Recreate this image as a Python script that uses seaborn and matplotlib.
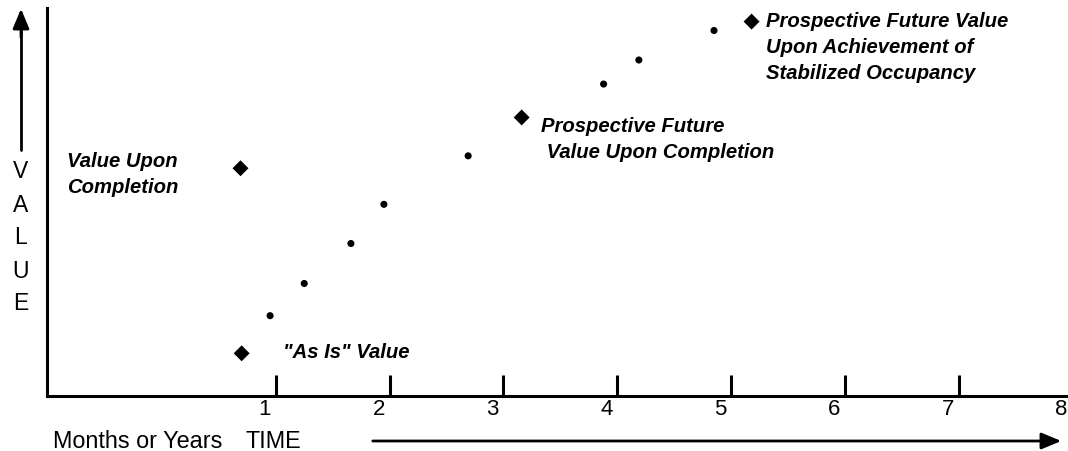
import numpy as np
import pandas as pd
import seaborn as sns
import matplotlib.pyplot as plt
from matplotlib.transforms import offset_copy

# diamonds = named values, dots = path in between
diamond_x = [0.70, 0.69, 3.16, 5.18]
diamond_y = [11.0, 58.7, 71.8, 96.5]
diamond_labels = ['"As Is" Value',
                  'Value Upon\nCompletion',
                  'Prospective Future\n Value Upon Completion',
                  'Prospective Future Value\nUpon Achievement of\nStabilized Occupancy']
dot_x = [0.95, 1.25, 1.66, 1.95, 2.69, 3.88, 4.19, 4.85]
dot_y = [20.7, 29.0, 39.3, 49.4, 61.9, 80.4, 86.6, 94.2]
tick_pos = [1, 2, 3, 4, 5, 6, 7]
tick_labels = ['1', '2', '3', '4', '5', '6', '7', '8']

diamonds = pd.DataFrame({'x': diamond_x, 'y': diamond_y, 'label': diamond_labels})
dots = pd.DataFrame({'x': dot_x, 'y': dot_y})

sns.set_style('white')
plt.rcParams['font.family'] = ['Liberation Sans', 'DejaVu Sans']
plt.rcParams['text.color'] = 'black'

W, H = 1068, 451
fig = plt.figure(figsize=(W / 100, H / 100), dpi=100)
ax = fig.add_axes([47 / W, (H - 396) / H, (W - 47) / W, (396 - 8) / H])

sns.scatterplot(data=dots, x='x', y='y', ax=ax, color='black', s=26,
                marker='o', edgecolor='none', zorder=3)
sns.scatterplot(data=diamonds, x='x', y='y', ax=ax, color='black', s=66,
                marker='D', edgecolor='none', zorder=3)

ax.set_xlim(-1.01, 7.96)
ax.set_ylim(0, 100)
ax.set_xlabel('')
ax.set_ylabel('')
ax.set_yticks([])
ax.set_xticks(tick_pos)
ax.set_xticklabels([])
ax.tick_params(axis='x', direction='in', length=15, width=2.2, color='black', bottom=True)
for side in ['top', 'right']:
    ax.spines[side].set_visible(False)
for side in ['left', 'bottom']:
    ax.spines[side].set_color('black')
    ax.spines[side].set_linewidth(2.2)

# tick numbers sit a bit left of each tick
lab_tr = offset_copy(ax.get_xaxis_transform(), fig=fig, x=-11, y=0, units='dots')
for i, t in enumerate(tick_labels):
    ax.text(i + 1, -0.035, t, transform=lab_tr, ha='center', va='center',
            fontsize=16, color='black', clip_on=False)

# labels next to the diamonds
label_pos = [(1.06, 11.1), (-0.83, 57.1), (3.33, 66.1), (5.31, 89.8)]
for (lx, ly), txt in zip(label_pos, diamonds['label']):
    ax.text(lx, ly, txt, ha='left', va='center', fontsize=14.6, color='black',
            fontweight='bold', fontstyle='italic', linespacing=1.45, clip_on=False)

# VALUE arrow and letters on the left
fig.add_artist(plt.Line2D([21 / W, 21 / W], [(H - 150) / H, (H - 20) / H],
                          color='black', lw=2))
ax.annotate('', xy=(21 / W, (H - 6) / H), xytext=(21 / W, (H - 40) / H),
            xycoords='figure fraction', textcoords='figure fraction',
            arrowprops=dict(arrowstyle='-|>,head_length=1.2,head_width=0.5',
                            color='black', lw=2))
for i, ch in enumerate('VALUE'):
    fig.text(21 / W, (H - 172 - 33 * i) / H, ch, ha='center', va='center', fontsize=16.5)

# bottom captions and TIME arrow
fig.text(53 / W, (H - 441) / H, 'Months or Years', ha='left', va='center', fontsize=16.8)
fig.text(245 / W, (H - 441) / H, 'TIME', ha='left', va='center', fontsize=16.8)
ax.annotate('', xy=(1064 / W, (H - 441) / H), xytext=(370 / W, (H - 441) / H),
            xycoords='figure fraction', textcoords='figure fraction',
            arrowprops=dict(arrowstyle='-|>,head_length=1.2,head_width=0.5',
                            color='black', lw=2))

fig.savefig('out.png', dpi=100)
